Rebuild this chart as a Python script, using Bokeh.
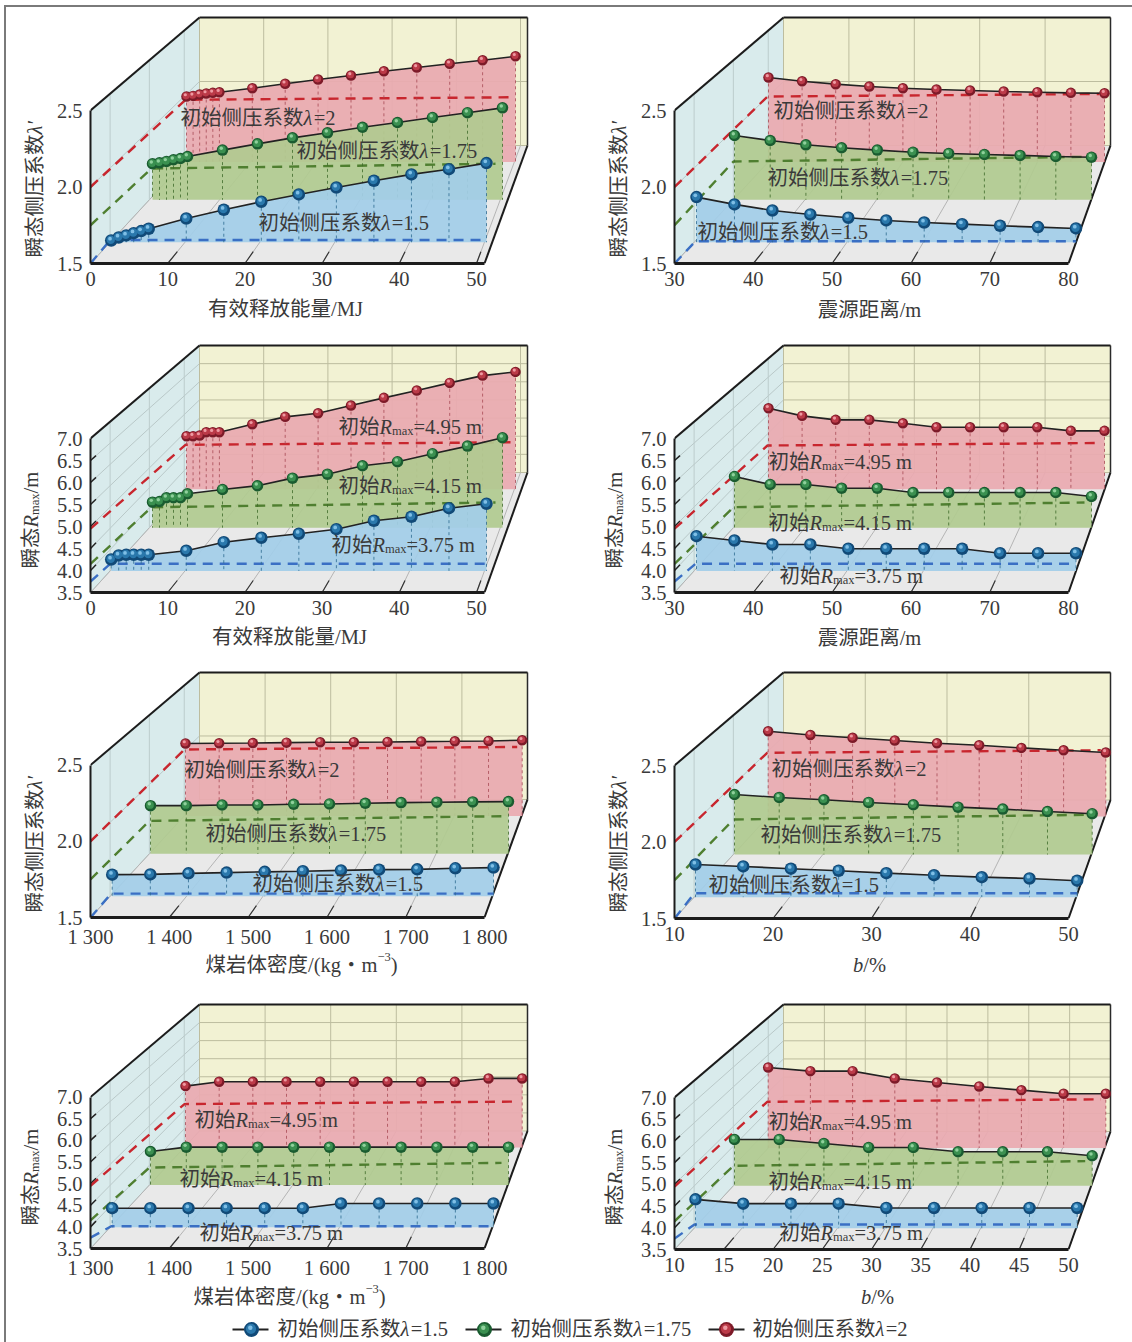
import math
from bokeh.embed import file_html
from bokeh.resources import INLINE
from bokeh.plotting import figure
from bokeh.layouts import column, row
from bokeh.models import Range1d, FixedTicker, Label, InlineStyleSheet, PrintfTickFormatter

# ---------- x values ----------
energy_x = [0, 1, 2, 3, 4, 5, 10, 15, 20, 25, 30, 35, 40, 45, 50]
distance_x = [30, 35, 40, 45, 50, 55, 60, 65, 70, 75, 80]
density_x = [1300, 1350, 1400, 1450, 1500, 1550, 1600, 1650, 1700, 1750, 1800]
b_x = [10, 15, 20, 25, 30, 35, 40, 45, 50]

# ---------- y values: lambda' panels (series lambda = 1.5, 1.75, 2) ----------
energy_lam_15 = [1.512, 1.532, 1.546, 1.561, 1.575, 1.591, 1.660, 1.719, 1.773, 1.822, 1.869, 1.914, 1.957, 1.992, 2.033]
energy_lam_175 = [1.758, 1.765, 1.775, 1.787, 1.796, 1.810, 1.856, 1.901, 1.944, 1.980, 2.020, 2.054, 2.090, 2.124, 2.159]
energy_lam_2 = [1.998, 2.003, 2.013, 2.021, 2.026, 2.031, 2.061, 2.095, 2.127, 2.158, 2.190, 2.219, 2.247, 2.274, 2.304]
distance_lam_15 = [1.804, 1.755, 1.714, 1.687, 1.665, 1.647, 1.633, 1.622, 1.611, 1.602, 1.593]
distance_lam_175 = [1.961, 1.925, 1.894, 1.873, 1.856, 1.841, 1.832, 1.825, 1.818, 1.810, 1.805]
distance_lam_2 = [2.143, 2.114, 2.092, 2.074, 2.061, 2.051, 2.044, 2.036, 2.031, 2.026, 2.023]
density_lam_15 = [1.646, 1.648, 1.655, 1.660, 1.665, 1.669, 1.675, 1.680, 1.682, 1.689, 1.694]
density_lam_175 = [1.847, 1.847, 1.852, 1.852, 1.857, 1.859, 1.864, 1.869, 1.872, 1.874, 1.876]
density_lam_2 = [2.055, 2.057, 2.059, 2.062, 2.065, 2.065, 2.067, 2.070, 2.072, 2.075, 2.080]
b_lam_15 = [1.720, 1.707, 1.692, 1.678, 1.662, 1.648, 1.635, 1.626, 1.611]
b_lam_175 = [1.931, 1.910, 1.893, 1.874, 1.857, 1.840, 1.826, 1.809, 1.793]
b_lam_2 = [2.151, 2.123, 2.101, 2.080, 2.059, 2.044, 2.024, 2.006, 1.989]

# ---------- y values: Rmax panels (series 3.75, 4.15, 4.95 m) ----------
energy_r_375 = [3.768, 3.862, 3.878, 3.878, 3.878, 3.878, 3.972, 4.174, 4.277, 4.371, 4.479, 4.676, 4.770, 4.972, 5.075]
energy_r_415 = [4.141, 4.158, 4.251, 4.251, 4.251, 4.352, 4.460, 4.553, 4.744, 4.844, 5.055, 5.156, 5.357, 5.548, 5.759]
energy_r_495 = [4.920, 4.920, 4.939, 5.027, 5.027, 5.027, 5.241, 5.439, 5.535, 5.741, 5.947, 6.142, 6.348, 6.543, 6.642]
distance_r_375 = [4.315, 4.214, 4.120, 4.120, 4.019, 4.019, 4.019, 4.019, 3.915, 3.915, 3.915]
distance_r_415 = [4.786, 4.585, 4.585, 4.492, 4.492, 4.384, 4.384, 4.384, 4.384, 4.384, 4.284]
distance_r_495 = [5.668, 5.465, 5.358, 5.358, 5.267, 5.160, 5.160, 5.160, 5.160, 5.064, 5.064]
density_r_375 = [3.956, 3.956, 3.956, 3.956, 3.956, 3.956, 4.068, 4.068, 4.068, 4.068, 4.068]
density_r_415 = [4.350, 4.461, 4.461, 4.461, 4.461, 4.461, 4.461, 4.461, 4.461, 4.461, 4.461]
density_r_495 = [5.151, 5.267, 5.267, 5.267, 5.267, 5.267, 5.267, 5.267, 5.267, 5.358, 5.358]
b_r_375 = [4.186, 4.084, 4.084, 4.084, 3.980, 3.980, 3.980, 3.980, 3.980]
b_r_415 = [4.670, 4.670, 4.569, 4.468, 4.468, 4.360, 4.360, 4.360, 4.259]
b_r_495 = [5.661, 5.562, 5.562, 5.366, 5.259, 5.151, 5.052, 4.956, 4.956]

# ---------- initial values, ticks, names ----------
lam_initial = [1.5, 1.75, 2.0]
r_initial = [3.75, 4.15, 4.95]
lam_ticks = [1.5, 2.0, 2.5]
r_ticks = [3.5, 4.0, 4.5, 5.0, 5.5, 6.0, 6.5, 7.0]
energy_ticks = [0, 10, 20, 30, 40, 50]
distance_ticks = [30, 40, 50, 60, 70, 80]
density_ticks = [1300, 1400, 1500, 1600, 1700, 1800]
density_labels = {1300: "1 300", 1400: "1 400", 1500: "1 500", 1600: "1 600", 1700: "1 700", 1800: "1 800"}
b_ticks_coarse = [10, 20, 30, 40, 50]
b_ticks_fine = [10, 15, 20, 25, 30, 35, 40, 45, 50]
lam_names = ["1.5", "1.75", "2"]
r_names = ["3.75", "4.15", "4.95"]

# ---------- style ----------
FONT = "Liberation Serif, Noto Sans CJK SC"
FS = 20.5
TXT = "#3a3a3a"
RIB = ["#a3cde8", "#b0ca90", "#e9aab0"]
DASH = ["#3a6fc4", "#4f7f30", "#c8262e"]
DROP = ["#2d6a90", "#3f6a2a", "#a84a55"]
DARK = ["#114a78", "#1a5c30", "#7d1a28"]
MID = ["#2a78ac", "#3a9050", "#bb3a48"]
HI = ["#7fbfe6", "#8fd09c", "#ee9aa2"]
SPH = [12.5, 11.5, 10.5]
DEPTH = [0.18, 0.54, 0.86]
DASH_TILT = [0, 4.7, 2.5]
DASH_TRIM = [0, 7, 5]
STRIP = 52
AXIS_BELOW = 32

WIDTHS = {".": .25, "=": .564, " ": .25, "m": .778, "a": .444, "x": .5, "R": .611, "λ": .5, "/": .278,
          "M": .889, "J": .389, "(": .333, ")": .333, "k": .5, "g": .5, "b": .5, "%": .833, "−": .564, "′": .25}


def width(s, fs):
    w = 0
    for c in s:
        if c.isdigit():
            w += .5
        elif c in WIDTHS:
            w += WIDTHS[c]
        else:
            w += 1
    return w * fs


def runs(fig, to_x, to_y, px, py, parts, rotated=False, center=False):
    """parts: (text, italic, size, baseline shift). (px, py) is the start of the text line."""
    total = sum(width(t, s) for t, _, s, _ in parts)
    pos = -total / 2 if center else 0
    for t, it, s, dy in parts:
        if rotated:
            x, y = px + dy, py - pos
        else:
            x, y = px + pos, py + dy
        fig.add_layout(Label(x=to_x(x), y=to_y(y), text=t, text_font=FONT, text_font_size=f"{s}px",
                             text_font_style="italic" if it else "normal", text_color=TXT,
                             text_align="left", text_baseline="alphabetic",
                             angle=math.pi / 2 if rotated else 0))
        pos += width(t, s)


def lam_parts(name):
    return [("初始侧压系数", False, FS, 0), ("λ", True, FS, 0), ("=" + name, False, FS, 0)]


def r_parts(name):
    return [("初始", False, FS, 0), ("R", True, FS, 0), ("max", False, 12.5, 4), ("=" + name + " m", False, FS, 0)]


Y_LAM = [("瞬态侧压系数", False, FS, 0), ("λ", True, FS, 0), ("′", False, FS, 0)]
Y_R = [("瞬态", False, FS, 0), ("R", True, FS, 0), ("max", False, 12.5, 4), ("/m", False, FS, 0)]

ROWS = [
    dict(y0=0, h=335, F=263, T=110, BT=17, BB=145),
    dict(y0=335, h=325, F=592, T=438, BT=345, BB=472),
    dict(y0=660, h=330, F=918, T=765, BT=672, BB=799.5),
    dict(y0=990, h=320, F=1249, T=1097, BT=1004, BB=1131),
]
COLS = [dict(x0=0, w=584, FL=90, right=535), dict(x0=584, w=548, FL=674, right=1120)]
LEFT_R = [20.7, 62, 96], [396, 412, 425]
DIST_R = [22, 60, 94], [401.5, 417, 430]
DENS_R = [21.7, 60, 95], [403, 418, 431.7]
B_R = [21, 60, 93.7], [402.7, 417.7, 431.3]

PANELS = [
    dict(r=0, c=0, x=energy_x, ser=[energy_lam_15, energy_lam_175, energy_lam_2], init=lam_initial, yt=lam_ticks,
         xt=energy_ticks, geo=LEFT_R, front=386, back=321, kind="lam", lab=[(258, 222), (296, 150), (180, 117)],
         corner=[239.5, 168, 99.3],
         xlabel=[("有效释放能量/MJ", False, FS, 0)], xc=285, yx=308),
    dict(r=0, c=1, x=distance_x, ser=[distance_lam_15, distance_lam_175, distance_lam_2], init=lam_initial, yt=lam_ticks,
         xt=distance_ticks, geo=DIST_R, front=394, back=327, kind="lam", lab=[(697, 231), (767, 177), (773, 110)],
         corner=[240.7, 161, 96],
         xlabel=[("震源距离/m", False, FS, 0)], xc=869, yx=309),
    dict(r=1, c=0, x=energy_x, ser=[energy_r_375, energy_r_415, energy_r_495], init=r_initial, yt=r_ticks,
         xt=energy_ticks, geo=LEFT_R, front=386, back=321, kind="r", lab=[(331, 544), (338, 485), (338, 426)],
         corner=[563.3, 506.7, 444.3],
         xlabel=[("有效释放能量/MJ", False, FS, 0)], xc=289, yx=636),
    dict(r=1, c=1, x=distance_x, ser=[distance_r_375, distance_r_415, distance_r_495], init=r_initial, yt=r_ticks,
         xt=distance_ticks, geo=DIST_R, front=394, back=327, kind="r", lab=[(779, 575), (768, 522), (768, 461)],
         corner=[563.3, 506.7, 445],
         xlabel=[("震源距离/m", False, FS, 0)], xc=869, yx=637),
    dict(r=2, c=0, x=density_x, ser=[density_lam_15, density_lam_175, density_lam_2], init=lam_initial, yt=lam_ticks,
         xt=density_ticks, geo=DENS_R, front=394, back=328, kind="lam", lab=[(252, 884), (205, 834), (184, 770)],
         corner=[894, 821, 749.3],
         xlabel=[("煤岩体密度/(kg・m", False, FS, 0), ("−3", False, 12.5, -8), (")", False, FS, 0)], xc=301, yx=964),
    dict(r=2, c=1, x=b_x, ser=[b_lam_15, b_lam_175, b_lam_2], init=lam_initial, yt=lam_ticks,
         xt=b_ticks_coarse, geo=B_R, front=394, back=327, kind="lam", lab=[(708, 884), (760, 834), (771, 768)],
         corner=[892.7, 819, 752.3],
         xlabel=[("b", True, FS, 0), ("/%", False, FS, 0)], xc=869, yx=964),
    dict(r=3, c=0, x=density_x, ser=[density_r_375, density_r_415, density_r_495], init=r_initial, yt=r_ticks,
         xt=density_ticks, geo=DENS_R, front=394, back=328, kind="r", lab=[(199, 1233), (179, 1179), (194, 1120)],
         corner=[1226.7, 1167.7, 1104],
         xlabel=[("煤岩体密度/(kg・m", False, FS, 0), ("−3", False, 12.5, -8), (")", False, FS, 0)], xc=289, yx=1296),
    dict(r=3, c=1, x=b_x, ser=[b_r_375, b_r_415, b_r_495], init=r_initial, yt=r_ticks,
         xt=b_ticks_fine, geo=B_R, front=394, back=327, kind="r", lab=[(779, 1232), (768, 1181), (768, 1121)],
         corner=[1224, 1165.3, 1101.3],
         xlabel=[("b", True, FS, 0), ("/%", False, FS, 0)], xc=877, yx=1296),
]


def sphere(fig, xs, ys, k, size, ux, uy):
    fig.scatter(xs, ys, size=size, color=DARK[k], line_color=None)
    fig.scatter([v - 0.5 * ux for v in xs], [v + 0.7 * uy for v in ys], size=size * .68, color=MID[k], line_color=None)
    fig.scatter([v - 1.2 * ux for v in xs], [v + 1.8 * uy for v in ys], size=size * .3, color=HI[k], line_color=None)


def text_strip(x0, y0, w, h):
    """A figure without axes whose ranges are the page's pixels: it holds the texts outside the plot frame."""
    s = figure(width=w, height=h, output_backend="svg", toolbar_location=None, x_axis_type=None, y_axis_type=None,
               x_range=Range1d(x0, x0 + w), y_range=Range1d(y0 + h, y0), min_border=0, frame_align=False,
               outline_line_color=None, background_fill_color=None)
    s.grid.visible = False
    return s


same = lambda v: v


def build(pn):
    R, C = ROWS[pn["r"]], COLS[pn["c"]]
    F, T, BT, BB, FL = R["F"], R["T"], R["BT"], R["BB"], C["FL"]
    FR, BL, BR = FL + 394, FL + 109, FL + (437 if pn["c"] == 0 else 436)
    top = BT - 6
    xmin, xmax = pn["xt"][0], pn["xt"][-1]
    vmin, vmax = pn["yt"][0], pn["yt"][-1]
    sx, sy = pn["front"] / (xmax - xmin), (F - T) / (vmax - vmin)
    ux, uy = 1 / sx, 1 / sy
    to_x = lambda px: xmin + (px - FL) / sx
    to_y = lambda py: vmin + (F - py) / sy
    main_x = C["x0"] + STRIP
    main_h = F + AXIS_BELOW - R["y0"]
    p = figure(width=C["w"] - STRIP, height=main_h, output_backend="svg", toolbar_location=None,
               x_range=Range1d(xmin, to_x(C["right"])), y_range=Range1d(vmin, to_y(top)),
               min_border_left=FL - main_x, min_border_right=C["x0"] + C["w"] - C["right"],
               min_border_top=top - R["y0"], min_border_bottom=AXIS_BELOW, frame_align=False,
               outline_line_color=None, background_fill_color=None)
    p.grid.visible = False

    def poly(pts, **kw):
        p.patch([to_x(a) for a, _ in pts], [to_y(b) for _, b in pts], **kw)

    def seg(a, b, color, w, **kw):
        p.line([to_x(a[0]), to_x(b[0])], [to_y(a[1]), to_y(b[1])], line_color=color, line_width=w, **kw)

    # walls
    poly([(FL, F), (FL, T), (BL, BT), (BL, BB)], fill_color="#d9ebec", line_color=None)
    poly([(BL, BT), (BR, BT), (BR, BB), (BL, BB)], fill_color="#f2f2d3", line_color=None)
    poly([(FL, F), (FR, F), (BR, BB), (BL, BB)], fill_color="#e9e9e9", line_color=None)

    # grid on the walls and floor
    for t in pn["yt"]:
        f = (t - vmin) / (vmax - vmin)
        yf = F - f * (F - T)
        yb = BB - f * (BB - BT)
        seg((FL, yf), (BL, yb), "#b9c8c8", 1)
        seg((BL, yb), (BR, yb), "#bdbd9f", 1)
        if t != vmin and t != vmax:
            seg((FL, yf), (FL + 5.5, yf - 5.5 * (yf - yb) / 109), "#222222", 1.5)
    for t in pn["xt"]:
        f = (t - xmin) / (xmax - xmin)
        xf = FL + f * pn["front"]
        xb = BL + f * pn["back"]
        seg((xb, BT), (xb, BB), "#bdbd9f", 1)
        seg((xf, F), (xb, BB), "#b4b4b4", 1)
        if t != xmin and (t != xmax or pn["front"] < 394):
            seg((xf, F), (xf + (xb - xf) * 0.1, F - (F - BB) * 0.1), "#333333", 1.2)
    for d in DEPTH:
        xw = FL + d * 109
        seg((xw, F - d * (F - BB)), (xw, T - d * (T - BT)), "#bccccc", 1)

    # frame of the box
    seg((FL, T), (BL, BT), "#1c1c1c", 2)
    seg((BL, BT), (BR, BT), "#1c1c1c", 2)
    seg((BR, BT), (BR, BB), "#2a2a2a", 1.5)
    seg((BR, BB), (FR, F), "#1c1c1c", 2)

    # series, from back to front
    Ls, Rs = pn["geo"]
    for k in (2, 1, 0):
        vals, xs = pn["ser"][k], pn["x"]
        d = DEPTH[k]
        flo = F - (F - BB) * d
        S = (F - T) - ((F - T) - (BB - BT)) * d
        X = [to_x(FL + Ls[k] + (a - xs[0]) / (xs[-1] - xs[0]) * (Rs[k] - Ls[k])) for a in xs]
        Y = [to_y(flo - (v - vmin) / (vmax - vmin) * S) for v in vals]
        base = to_y(flo)
        p.patch([X[0]] + X + [X[-1]], [base] + Y + [base], fill_color=RIB[k], fill_alpha=.93, line_color=None)
        # dashed line of the initial value
        f0 = (pn["init"][k] - vmin) / (vmax - vmin)
        yfront = F - f0 * (F - T)
        ycorner = pn["corner"][k]
        xc0, xc1 = FL + Ls[k] - 1, FL + Rs[k] - DASH_TRIM[k]
        p.line([to_x(FL), to_x(xc0), to_x(xc1)], [to_y(yfront), to_y(ycorner), to_y(ycorner - DASH_TILT[k])],
               line_color=DASH[k], line_width=2.4, line_dash="10 7")
        # drop lines
        for xa, ya in zip(X, Y):
            p.line([xa, xa], [ya, base], line_color=DROP[k], line_width=1, line_dash="3 3", line_alpha=.8)
        p.line(X, Y, line_color="#222222", line_width=1.6)
        sphere(p, X, Y, k, SPH[k], ux, uy)

    # axes
    ax, ay = p.xaxis[0], p.yaxis[0]
    ax.ticker = FixedTicker(ticks=pn["xt"])
    ay.ticker = FixedTicker(ticks=pn["yt"])
    ax.bounds = (xmin, to_x(FR))
    ay.bounds = (vmin, vmax)
    ay.formatter = PrintfTickFormatter(format="%.1f")
    if xmin == 1300:
        ax.major_label_overrides = density_labels
    for a in (ax, ay):
        a.major_tick_line_color = None
        a.minor_tick_line_color = None
        a.major_tick_in = 0
        a.major_tick_out = 0
        a.axis_line_color = "#1c1c1c"
        a.major_label_text_font = "Liberation Serif"
        a.major_label_text_font_size = f"{FS}px"
        a.major_label_text_color = TXT
    ax.axis_line_width = 3
    ay.axis_line_width = 2
    ax.major_label_standoff = 8
    ay.major_label_standoff = 8

    # texts inside the plot
    names = lam_names if pn["kind"] == "lam" else r_names
    maker = lam_parts if pn["kind"] == "lam" else r_parts
    for (lx, ly), nm in zip(pn["lab"], names):
        runs(p, to_x, to_y, lx, ly, maker(nm))

    # y label strip and x label strip
    left = text_strip(C["x0"], R["y0"], STRIP, R["h"])
    if pn["kind"] == "lam":
        runs(left, same, same, FL - 56, F - 6, Y_LAM, rotated=True)
    else:
        runs(left, same, same, FL - 60, F - 24, Y_R, rotated=True)
    under = text_strip(main_x, F + AXIS_BELOW, C["w"] - STRIP, R["y0"] + R["h"] - F - AXIS_BELOW)
    runs(under, same, same, pn["xc"], pn["yx"], pn["xlabel"], center=True)
    return row(left, column(p, under, spacing=0), spacing=0)


cells = [build(pn) for pn in PANELS]

# ---------- legend strip ----------
leg = text_strip(0, 1310, 1132, 32)
for k, (x1, x2, xm, xt) in enumerate([(232, 268, 251, 277), (465, 501, 484, 510), (708, 744, 726, 752)]):
    leg.line([x1, x2], [1329, 1329], line_color="#222222", line_width=2)
    sphere(leg, [xm], [1329], k, 15, 1, -1)
    runs(leg, same, same, xt, 1328, lam_parts(lam_names[k]))

frame_css = InlineStyleSheet(css=""":host::before{content:"";position:absolute;left:4px;top:5px;width:1128px;height:1337px;
border-left:2px solid #7a7a7a;border-top:2px solid #7a7a7a;pointer-events:none;z-index:5}""")

root = column(row(cells[0], cells[1], spacing=0), row(cells[2], cells[3], spacing=0),
              row(cells[4], cells[5], spacing=0), row(cells[6], cells[7], spacing=0), leg,
              spacing=0, stylesheets=[frame_css])

open("out.html", "w").write(file_html(root, INLINE))
